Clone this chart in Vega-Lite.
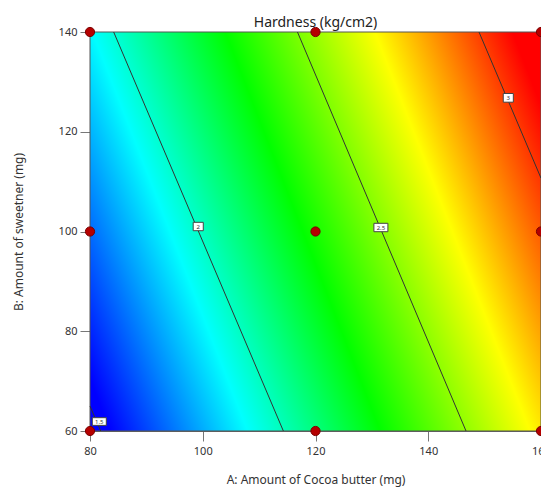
{
  "$schema": "https://vega.github.io/schema/vega-lite/v6.json",
  "autosize": {"type": "none"},
  "padding": {"left": 90, "top": 32, "right": 0, "bottom": 56},
  "width": 451,
  "height": 399,
  "background": "white",
  "config": {
    "view": {"stroke": null},
    "font": "Noto Sans",
    "axis": {
      "grid": false,
      "domainColor": "#666",
      "tickColor": "#777",
      "tickSize": 10,
      "labelColor": "#333",
      "labelFontSize": 11,
      "labelFlush": false,
      "labelOverlap": false,
      "titleFontSize": 12,
      "titleFontWeight": "normal",
      "titleColor": "#333",
      "labelFont": "Noto Sans",
      "titleFont": "Noto Sans"
    }
  },
  "title": {
    "text": "Hardness (kg/cm2)",
    "fontSize": 14,
    "fontWeight": "normal",
    "color": "#222",
    "font": "Noto Sans",
    "anchor": "middle",
    "offset": -5
  },
  "encoding": {
    "x": {
      "field": "A",
      "type": "quantitative",
      "scale": {"domain": [80, 160], "nice": false, "zero": false},
      "axis": {"title": "A: Amount of Cocoa butter (mg)", "values": [80, 100, 120, 140, 160], "labelPadding": 4, "titlePadding": 18}
    },
    "y": {
      "field": "B",
      "type": "quantitative",
      "scale": {"domain": [60, 140], "nice": false, "zero": false},
      "axis": {"title": "B: Amount of sweetner (mg)", "values": [60, 80, 100, 120, 140], "labelPadding": 3, "titlePadding": 33}
    }
  },
  "layer": [
    {
      "data": {"values": [{"A": 80, "A2": 160, "B": 60, "B2": 140}]},
      "mark": {
        "type": "rect",
        "stroke": "#555",
        "strokeWidth": 1,
        "fill": {
          "gradient": "linear",
          "x1": 0, "y1": 1, "x2": 1.2017, "y2": 0.5869,
          "stops": [
            {"offset": 0, "color": "#0000ff"},
            {"offset": 0.033, "color": "#0000ff"},
            {"offset": 0.26, "color": "#00ffff"},
            {"offset": 0.479, "color": "#00ff00"},
            {"offset": 0.726, "color": "#ffff00"},
            {"offset": 0.953, "color": "#ff0000"},
            {"offset": 1, "color": "#ff0000"}
          ]
        }
      },
      "encoding": {"x2": {"field": "A2"}, "y2": {"field": "B2"}}
    },
    {
      "data": {"values": [
        {"level": "1.5", "A": 80, "B": 65, "A2": 81.9, "B2": 60},
        {"level": "2", "A": 84.2, "B": 140, "A2": 114.3, "B2": 60},
        {"level": "2.5", "A": 116.8, "B": 140, "A2": 146.7, "B2": 60},
        {"level": "3", "A": 149.0, "B": 140, "A2": 160, "B2": 110.7}
      ]},
      "mark": {"type": "rule", "color": "#333", "strokeWidth": 1},
      "encoding": {"x2": {"field": "A2"}, "y2": {"field": "B2"}}
    },
    {
      "data": {"values": [
        {"label": "1.5", "A": 81.65, "B": 61.9},
        {"label": "2", "A": 99.2, "B": 101.0},
        {"label": "2.5", "A": 131.6, "B": 100.8},
        {"label": "3", "A": 154.2, "B": 126.8}
      ]},
      "layer": [
        {
          "mark": {"type": "point", "filled": true, "fill": "white", "stroke": "#444", "strokeWidth": 1, "opacity": 1, "size": 196},
          "encoding": {
            "shape": {
              "field": "label",
              "type": "nominal",
              "legend": null,
              "scale": {
                "domain": ["1.5", "2", "2.5", "3"],
                "range": [
                  "M-1,-0.55H1V0.55H-1Z",
                  "M-0.72,-0.6H0.72V0.6H-0.72Z",
                  "M-1,-0.6H1V0.6H-1Z",
                  "M-0.72,-0.62H0.72V0.62H-0.72Z"
                ]
              }
            }
          }
        },
        {
          "mark": {"type": "text", "fontSize": 6, "color": "#333", "align": "center", "baseline": "middle"},
          "encoding": {"text": {"field": "label"}}
        }
      ]
    },
    {
      "data": {"values": [
        {"A": 80, "B": 60}, {"A": 80, "B": 100}, {"A": 80, "B": 140},
        {"A": 120, "B": 60}, {"A": 120, "B": 100}, {"A": 120, "B": 140},
        {"A": 160, "B": 60}, {"A": 160, "B": 100}, {"A": 160, "B": 140}
      ]},
      "mark": {"type": "point", "shape": "circle", "filled": true, "fill": "#b50000", "stroke": "#7a0000", "strokeWidth": 1, "opacity": 1, "size": 85}
    }
  ]
}
